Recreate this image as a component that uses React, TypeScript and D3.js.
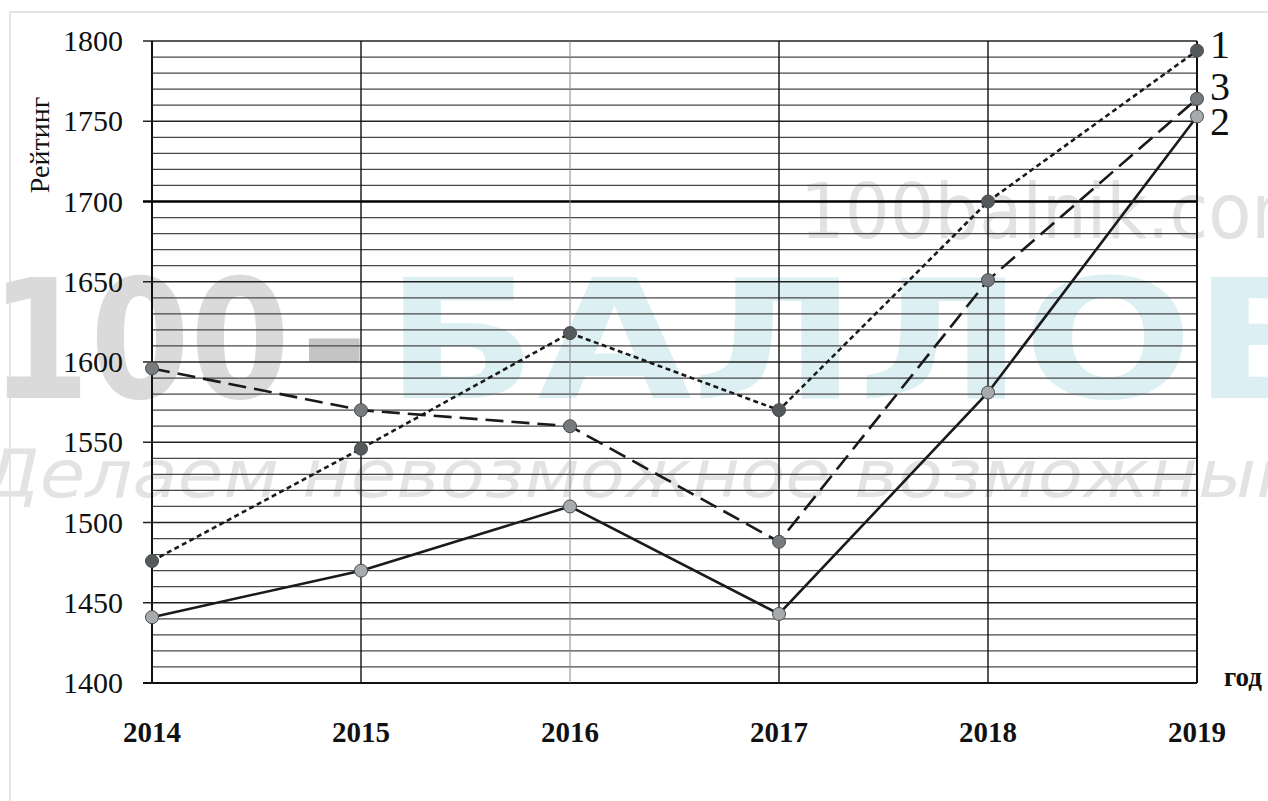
import React from "react";
import * as d3 from "d3";

const years = [2014, 2015, 2016, 2017, 2018, 2019];
const series1 = [1476, 1546, 1618, 1570, 1700, 1794]; // dotted
const series3 = [1596, 1570, 1560, 1488, 1651, 1764]; // long dash
const series2 = [1441, 1470, 1510, 1443, 1581, 1753]; // solid
const yTicks = [1400, 1450, 1500, 1550, 1600, 1650, 1700, 1750, 1800];
const seriesNames = ["1", "3", "2"];

const W = 1268;
const H = 801;
const serif = "Liberation Serif, DejaVu Serif, serif";

export default function App() {
  const x = d3.scaleLinear().domain([2014, 2019]).range([152, 1197]);
  const y = d3.scaleLinear().domain([1400, 1800]).range([683, 41]);
  const minor = d3.range(1410, 1801, 10);

  const line = d3
    .line<number>()
    .x((_, i) => x(years[i]))
    .y((d) => y(d));

  const series = [
    { data: series1, dash: "5,3.5", fill: "#545a5c" },
    { data: series3, dash: "18,8", fill: "#777b7d" },
    { data: series2, dash: null, fill: "#a8abad" },
  ];

  const labelY = [58, 100, 135];

  return (
    <svg
      width={W}
      height={H}
      style={{ position: "absolute", left: 0, top: 0, display: "block", background: "#fff" }}
    >
      <rect x={10} y={12} width={W} height={H} fill="none" stroke="#dcdcdc" strokeWidth={1.5} />

      {/* watermark */}
      <g style={{ fontFamily: "DejaVu Sans, sans-serif" }}>
        <text x={800} y={238} fontSize={76} fill="#e2e2e2" textLength={520} lengthAdjust="spacingAndGlyphs">
          100balnik.com
        </text>
        <text x={-10} y={398} fontSize={165} fontWeight="bold" fill="#dadada" textLength={300} lengthAdjust="spacingAndGlyphs">
          100
        </text>
        <text x={300} y={398} fontSize={165} fontWeight="bold" fill="#c4c4c4">
          -
        </text>
        <text x={385} y={398} fontSize={165} fontWeight="bold" fill="#dcf0f4" textLength={960} lengthAdjust="spacingAndGlyphs">
          БАЛЛОВ
        </text>
        <text x={-18} y={497} fontSize={66} fontStyle="italic" fill="#e3e3e3" textLength={1330} lengthAdjust="spacingAndGlyphs">
          Делаем невозможное возможным
        </text>
      </g>

      {/* horizontal grid */}
      {minor.map((v) => (
        <line
          key={v}
          x1={v % 50 === 0 ? 143 : 152}
          x2={1197}
          y1={y(v)}
          y2={y(v)}
          stroke={v === 1700 ? "#000" : v % 50 === 0 ? "#222" : "#474747"}
          strokeWidth={v === 1700 ? 2.4 : v % 50 === 0 ? 1.6 : 1.3}
        />
      ))}
      <line x1={143} x2={1197} y1={y(1400)} y2={y(1400)} stroke="#111" strokeWidth={2} />

      {/* vertical year lines */}
      {years.map((yr, i) => (
        <line
          key={yr}
          x1={x(yr)}
          x2={x(yr)}
          y1={y(1800)}
          y2={y(1400)}
          stroke={i === 2 ? "#8a8a8a" : "#111"}
          strokeWidth={i === 0 || i === 5 ? 2 : i === 2 ? 1 : 1.4}
        />
      ))}

      {/* y labels */}
      {yTicks.map((v) => (
        <text
          key={v}
          x={123}
          y={y(v) + 10}
          textAnchor="end"
          style={{ fontFamily: serif }}
          fontSize={30}
          fill="#111"
        >
          {v}
        </text>
      ))}

      {/* x labels */}
      {years.map((yr) => (
        <text
          key={yr}
          x={x(yr)}
          y={742}
          textAnchor="middle"
          style={{ fontFamily: serif }}
          fontSize={29}
          fontWeight="bold"
          fill="#111"
        >
          {yr}
        </text>
      ))}

      <text
        transform="translate(49,145) rotate(-90)"
        textAnchor="middle"
        style={{ fontFamily: serif }}
        fontSize={28}
        fill="#111"
      >
        Рейтинг
      </text>
      <text x={1224} y={686} style={{ fontFamily: serif }} fontSize={27} fontWeight="bold" fill="#111">
        год
      </text>

      {/* series */}
      {series.map((s, k) => (
        <path
          key={k}
          d={line(s.data) || ""}
          fill="none"
          stroke="#1a1a1a"
          strokeWidth={2.6}
          strokeDasharray={s.dash || undefined}
        />
      ))}
      {series.map((s, k) =>
        s.data.map((v, i) => (
          <circle
            key={`${k}-${i}`}
            cx={x(years[i])}
            cy={y(v)}
            r={6.5}
            fill={s.fill}
            stroke="#4a4a4a"
            strokeWidth={1}
          />
        ))
      )}

      {seriesNames.map((n, k) => (
        <text key={n} x={1210} y={labelY[k]} style={{ fontFamily: serif }} fontSize={40} fill="#111">
          {n}
        </text>
      ))}
    </svg>
  );
}
